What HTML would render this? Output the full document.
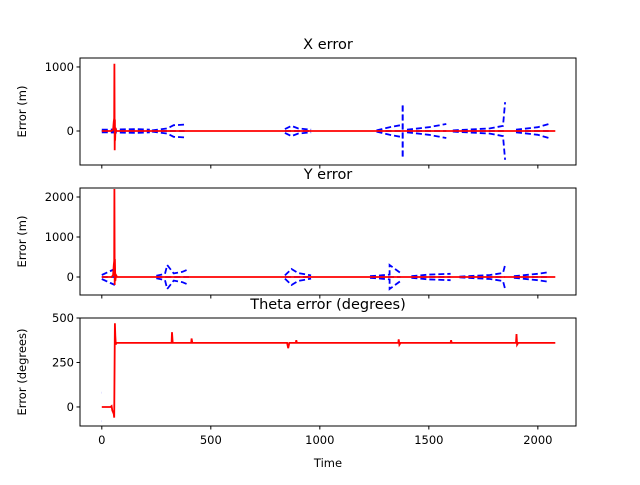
<!DOCTYPE html>
<html><head><meta charset="utf-8"><style>
body{margin:0;background:#fff;font-family:"Liberation Sans","DejaVu Sans",sans-serif}
text{font-family:"DejaVu Sans","Liberation Sans",sans-serif}
</style></head><body>
<svg id="fig" width="640" height="480" xmlns="http://www.w3.org/2000/svg"></svg>
<script>
// ---- data ----
const xTicks=[0,500,1000,1500,2000];
const xErrT=[0,45,52,55,57,58,59,60,61,63,66,70,2080];
const xErrV=[0,0,20,150,200,1050,-300,180,-150,50,0,0,0];
const xBoundT=[[0,160,220],[230,300,330,380],[840,870,900,960],[1260,1320,1370],[1380,1380],[1400,1500,1580],[1610,1780,1840,1850],[1900,2000,2050]];
const xBoundU=[[20,30,20],[10,40,90,100],[30,80,40,20],[10,60,90],[-400,420],[20,60,110],[10,40,80,450],[20,60,110]];
const yErrT=[0,45,52,55,57,58,59,60,62,65,70,2080];
const yErrV=[0,0,50,300,400,2200,-200,450,-100,50,0,0];
const yBoundT=[[0,40,60],[250,290,300,330,370,400],[840,870,900,960],[1230,1320,1320,1370],[1420,1500,1600],[1640,1780,1840,1850],[1890,2000,2050]];
const yBoundU=[[50,150,200],[30,80,300,90,130,200],[40,200,100,40],[20,60,300,100],[20,60,80],[10,50,100,300],[20,80,120]];
const thT=[0,40,45,48,52,55,57,58,60,62,64,66,70,320,322,325,330,410,412,415,850,855,860,890,892,895,1360,1362,1365,1370,1600,1602,1605,1900,1902,1905,1910,2080];
const thV=[0,0,5,-20,-30,-40,-60,100,470,400,350,360,360,360,420,360,360,360,385,360,360,330,360,360,375,360,360,380,350,360,360,375,360,360,410,350,360,360];
// ---- layout ----
const svg=document.getElementById('fig');
const NS='http://www.w3.org/2000/svg';
const L=80,R=576;
const xs=t=>L+(t+100)/(2275)*(R-L);
function el(tag,attrs,parent){const e=document.createElementNS(NS,tag);for(const k in attrs)e.setAttribute(k,attrs[k]);(parent||svg).appendChild(e);return e;}
function panel(name,top,bot,ymin,ymax,yticks,title,ylabel,showX){
  const g=el('g',{});
  
  
  const ys=v=>bot-(v-ymin)/(ymax-ymin)*(bot-top);
  const clip=el('clipPath',{id:'c'+name},g);el('rect',{x:L,y:top,width:R-L,height:bot-top},clip);
  const plot=el('g',{'clip-path':'url(#c'+name+')'},g);
  el('rect',{x:L,y:top,width:R-L,height:bot-top,fill:'none',stroke:'#000','stroke-width':1},g);
  yticks.forEach(v=>{const y=ys(v);
    const tk=el('line',{x1:L-3.5,x2:L,y1:y,y2:y,stroke:'#000'},g);
    
    const t=el('text',{x:L-6,y:y+4,'text-anchor':'end','font-size':11.5},g);t.textContent=v;
    });
  xTicks.forEach(v=>{const x=xs(v);el('line',{x1:x,x2:x,y1:bot,y2:bot+3.5,stroke:'#000'},g);
    if(showX){const t=el('text',{x:x,y:bot+18,'text-anchor':'middle','font-size':11.5},g);t.textContent=v;
      }});
  const tt=el('text',{x:(L+R)/2,y:top-9,'text-anchor':'middle','font-size':14.5},g);tt.textContent=title;
  
  const yl=el('text',{transform:`translate(${L-54},${(top+bot)/2}) rotate(-90)`,'text-anchor':'middle','font-size':11.5},g);yl.textContent=ylabel;
  
  return {plot,ys};
}
function line(p,ts,vs,color,dash,name){
  const pts=ts.map((t,i)=>xs(t).toFixed(1)+','+p.ys(vs[i]).toFixed(1)).join(' ');
  const pl=el('polyline',{points:pts,fill:'none',stroke:color,'stroke-width':1.8,'stroke-dasharray':dash||''},p.plot);
  
}
function bounds(p,T,U,name){
  T.forEach((ts,i)=>{line(p,ts,U[i],'#00f','6,3',name+'-upper');line(p,ts,U[i].map(v=>-v),'#00f','6,3',name+'-lower');
    line(p,[ts[0],ts[ts.length-1]],[0,0],'#00f','6,3',name+'-mid');});
}
const p1=panel('x-error-panel',58,165,-531,1140,[0,1000],'X error','Error (m)',false);
bounds(p1,xBoundT,xBoundU,'x-bound');line(p1,xErrT,xErrV,'#f00','','x-error-line');
const p2=panel('y-error-panel',188,295,-450,2225,[0,1000,2000],'Y error','Error (m)',false);
bounds(p2,yBoundT,yBoundU,'y-bound');line(p2,yErrT,yErrV,'#f00','','y-error-line');
const p3=panel('theta-error-panel',318,426,-107,500,[0,250,500],'Theta error (degrees)','Error (degrees)',true);
line(p3,[0,0.5],[80,80],'#00f','','theta-bound-upper');line(p3,[0,0.5],[-80,-80],'#00f','','theta-bound-lower');
line(p3,thT,thV,'#f00','','theta-error-line');
const xl=el('text',{x:(L+R)/2,y:467,'text-anchor':'middle','font-size':11.5});xl.textContent='Time';

</script>
</body></html>
